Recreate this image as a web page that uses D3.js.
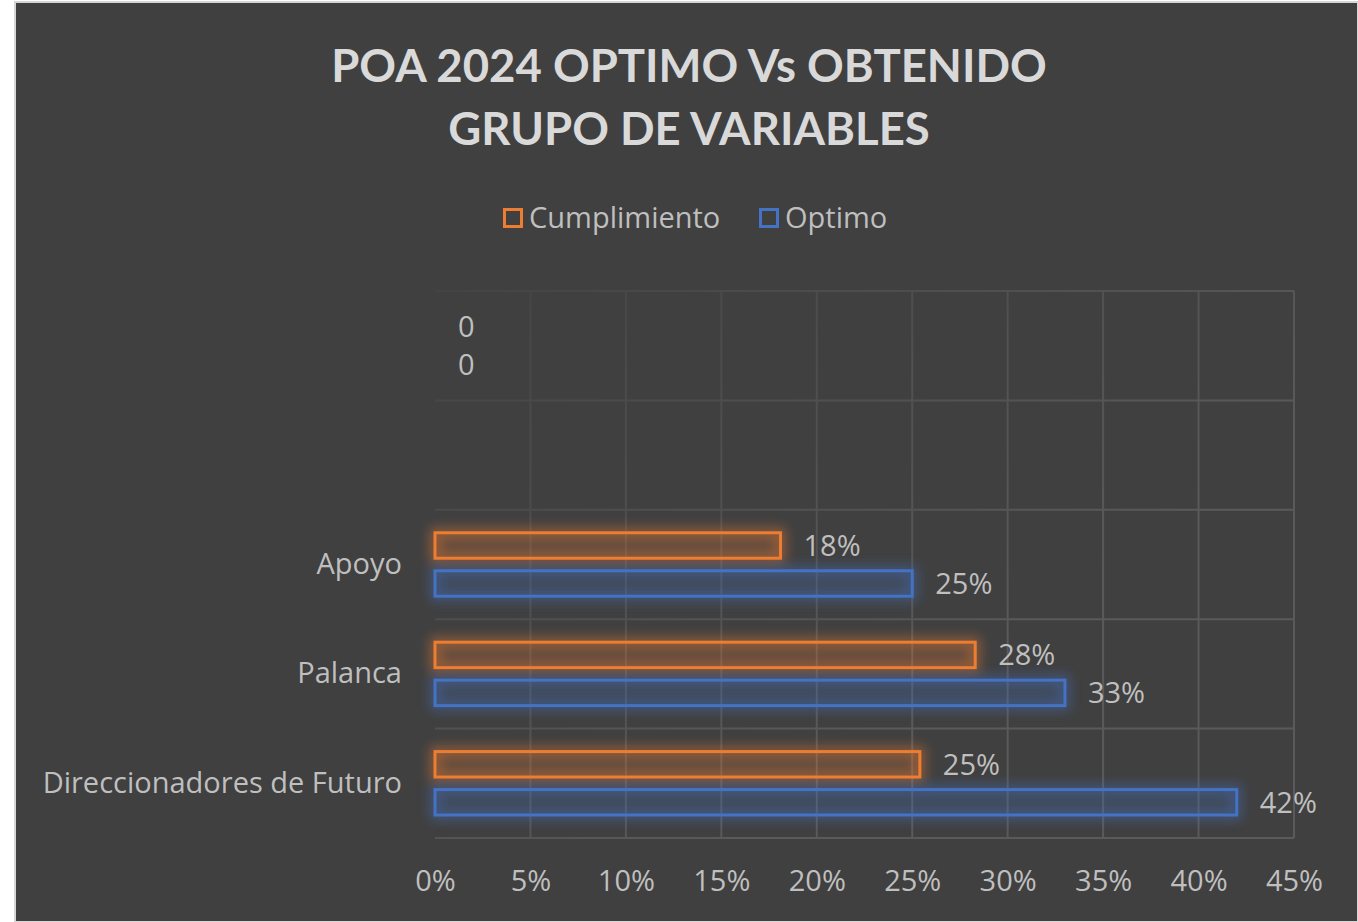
<!DOCTYPE html>
<html>
<head>
<meta charset="utf-8">
<script src="https://cdn.jsdelivr.net/npm/d3@7"></script>
<style>
  body { margin: 0; background: #fff; }
  text { font-family: "Open Sans", Lato, sans-serif; }
</style>
</head>
<body>
<div id="chart"></div>
<script>
// categories bottom -> top (Excel bar order)
var categories = ["Direccionadores de Futuro", "Palanca", "Apoyo", "", ""];
var seriesNames = ["Cumplimiento", "Optimo"];
var cumplimiento = [0.254, 0.283, 0.181, null, 0];
var optimo = [0.42, 0.33, 0.25, null, 0];
var tickValues = [0, 0.05, 0.10, 0.15, 0.20, 0.25, 0.30, 0.35, 0.40, 0.45];
var titleLines = ["POA 2024 OPTIMO Vs OBTENIDO", "GRUPO DE VARIABLES"];

var colors = { Cumplimiento: "#ED7D31", Optimo: "#4472C4" };
var W = 1358, H = 922;
var plot = { left: 435, right: 1294, top: 291, bottom: 838 };
var labelFont = "'Open Sans', Lato, sans-serif";
var labelSize = 29;

var svg = d3.select("#chart").append("svg")
    .attr("width", W).attr("height", H);

var defs = svg.append("defs");
defs.append("filter").attr("id", "glow")
    .attr("x", "-20%").attr("y", "-100%").attr("width", "140%").attr("height", "300%")
  .append("feGaussianBlur").attr("stdDeviation", 6);

var fade = defs.append("linearGradient").attr("id", "fade")
    .attr("x1", "0").attr("y1", "0").attr("x2", "0.7").attr("y2", "0.6");
fade.append("stop").attr("offset", "0").attr("stop-color", "#404040").attr("stop-opacity", 0.85);
fade.append("stop").attr("offset", "1").attr("stop-color", "#404040").attr("stop-opacity", 0);

// chart background
svg.append("rect").attr("x", 15).attr("y", 2).attr("width", W - 15).attr("height", H - 2)
    .attr("fill", "#404040").attr("stroke", "#d6d6d6").attr("stroke-width", 2);

// title
svg.append("g").selectAll("text").data(titleLines).enter().append("text")
    .attr("x", 689).attr("y", function(d, i) { return 82 + i * 63; })
    .attr("text-anchor", "middle")
    .attr("font-size", 45.5).attr("font-weight", "bold")
    .attr("fill", "#d9d9d9")
    .style("font-family", "Lato, 'Open Sans', sans-serif")
    .text(function(d) { return d; });

var x = d3.scaleLinear().domain([0, 0.45]).range([plot.left, plot.right]);
var y = d3.scaleBand().domain(d3.range(categories.length)).range([plot.bottom, plot.top]);
var ys = d3.scaleBand().domain(seriesNames).range([0, y.bandwidth()])
    .paddingInner(0.33).paddingOuter(0.605);

// gridlines
var grid = svg.append("g").attr("stroke", "#5a5a5a").attr("stroke-width", 2);
grid.selectAll(".vx").data(tickValues.slice(1)).enter().append("line")
    .attr("x1", function(d) { return x(d); }).attr("x2", function(d) { return x(d); })
    .attr("y1", plot.top).attr("y2", plot.bottom);
var yEdges = d3.range(categories.length).map(function(i) { return y(i); }).concat([plot.bottom]);
grid.selectAll(".hy").data(yEdges).enter().append("line")
    .attr("x1", plot.left).attr("x2", plot.right)
    .attr("y1", function(d) { return d; }).attr("y2", function(d) { return d; });
svg.append("rect").attr("x", plot.left - 2).attr("y", plot.top - 2)
    .attr("width", plot.right - plot.left + 4).attr("height", plot.bottom - plot.top + 4)
    .attr("fill", "url(#fade)");

// bars
var rows = [];
categories.forEach(function(c, i) {
  rows.push({ cat: i, s: "Cumplimiento", v: cumplimiento[i] });
  rows.push({ cat: i, s: "Optimo", v: optimo[i] });
});
var valid = rows.filter(function(d) { return d.v !== null; });
var bars = valid.filter(function(d) { return d.v > 0; });

var g = svg.append("g");
g.selectAll(".glow").data(bars).enter().append("rect")
    .attr("x", function(d) { return x(0); })
    .attr("y", function(d) { return y(d.cat) + ys(d.s); })
    .attr("width", function(d) { return x(d.v) - x(0); })
    .attr("height", ys.bandwidth())
    .attr("fill", function(d) { return colors[d.s]; }).attr("fill-opacity", 0.08)
    .attr("stroke", function(d) { return colors[d.s]; })
    .attr("stroke-width", 10).attr("stroke-opacity", 0.45)
    .attr("filter", "url(#glow)");
g.selectAll(".bar").data(bars).enter().append("rect")
    .attr("x", function(d) { return x(0); })
    .attr("y", function(d) { return y(d.cat) + ys(d.s); })
    .attr("width", function(d) { return x(d.v) - x(0); })
    .attr("height", ys.bandwidth())
    .attr("fill", function(d) { return colors[d.s]; }).attr("fill-opacity", 0.12)
    .attr("stroke", function(d) { return colors[d.s]; })
    .attr("stroke-width", 3);

// data labels
var fmt = d3.format(".0%");
g.selectAll(".lbl").data(valid).enter().append("text")
    .attr("x", function(d) { return x(d.v) + 23; })
    .attr("y", function(d) { return y(d.cat) + ys(d.s) + ys.bandwidth() / 2; })
    .attr("dy", "0.36em")
    .attr("font-size", labelSize).attr("fill", "#bfbfbf")
    .text(function(d) { return d.v === 0 ? "0" : fmt(d.v); });

// axes
var xAxis = svg.append("g").attr("transform", "translate(0," + plot.bottom + ")")
    .call(d3.axisBottom(x).tickValues(tickValues).tickFormat(d3.format(".0%")).tickSize(0).tickPadding(32));
var yAxis = svg.append("g").attr("transform", "translate(" + plot.left + ",0)")
    .call(d3.axisLeft(y).tickFormat(function(i) { return categories[i]; }).tickSize(0).tickPadding(33));
[xAxis, yAxis].forEach(function(a) {
  a.select(".domain").remove();
  a.selectAll("text").attr("font-size", labelSize).attr("fill", "#bfbfbf")
    .style("font-family", labelFont);
});

// legend
var legX = [503, 759];
var leg = svg.append("g").selectAll("g").data(seriesNames).enter().append("g")
    .attr("transform", function(d, i) { return "translate(" + legX[i] + ",208)"; });
leg.append("rect").attr("x", 1.5).attr("y", 1.5).attr("width", 17).attr("height", 17)
    .attr("fill", "none").attr("stroke", function(d) { return colors[d]; }).attr("stroke-width", 3);
leg.append("text").attr("x", 26).attr("y", 19.5).attr("font-size", labelSize).attr("fill", "#bfbfbf")
    .text(function(d) { return d; });
</script>
</body>
</html>
